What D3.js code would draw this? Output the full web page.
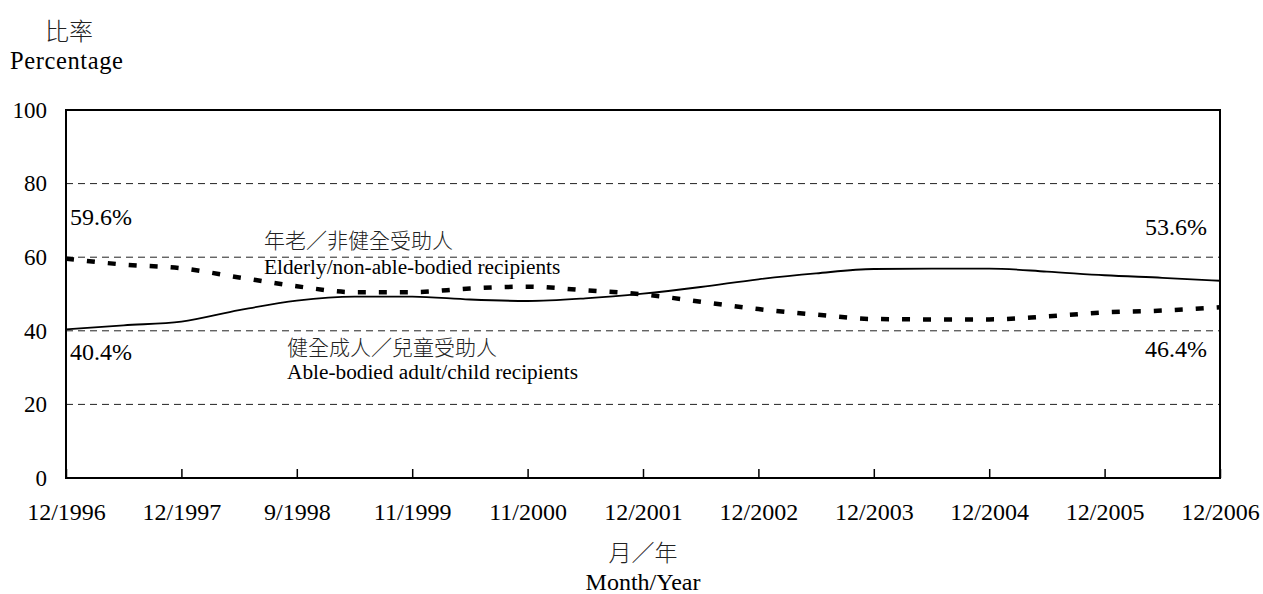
<!DOCTYPE html>
<html>
<head>
<meta charset="utf-8">
<script src="https://cdn.jsdelivr.net/npm/d3@7.9.0/dist/d3.min.js"></script>
<style>
  body { margin: 0; background: #fff; }
  text { font-family: "Liberation Serif", "Times New Roman", serif; fill: #000; }
  .cjk { font-family: "Noto Sans CJK TC", "Noto Sans CJK SC", sans-serif; font-weight: 300; fill: #222; }
</style>
</head>
<body>
<svg id="chart" width="1263" height="594"></svg>
<script>
// labelled months on the x axis (data points also sit halfway between them)
const tickLabels = ['12/1996', '12/1997', '9/1998', '11/1999', '11/2000', '12/2001',
  '12/2002', '12/2003', '12/2004', '12/2005', '12/2006'];

// % of CSSA cases at every half step
const elderly = [59.6, 58.0, 57.0, 54.5, 52.1, 50.5, 50.5, 51.5, 52.0, 51.0, 49.9,
  47.9, 45.9, 44.4, 43.2, 43.1, 43.1, 43.9, 45.0, 45.5, 46.4];
const ableBodied = [40.4, 41.5, 42.5, 45.6, 48.2, 49.3, 49.3, 48.5, 48.1, 48.8, 50.1,
  51.9, 54.0, 55.6, 56.8, 56.9, 56.9, 56.1, 55.1, 54.4, 53.6];

const yTicks = [0, 20, 40, 60, 80, 100];

const svg = d3.select('#chart');
const plotLeft = 66, plotRight = 1220, plotTop = 110, plotBottom = 478;

const x = d3.scaleLinear().domain([0, elderly.length - 1]).range([plotLeft, plotRight]);
const y = d3.scaleLinear().domain([0, 100]).range([plotBottom, plotTop]);

// dashed grid
svg.append('g')
  .selectAll('line')
  .data(yTicks.filter((t) => t > 0 && t < 100))
  .join('line')
  .attr('x1', plotLeft).attr('x2', plotRight)
  .attr('y1', (d) => y(d)).attr('y2', (d) => y(d))
  .attr('stroke', '#222')
  .attr('stroke-width', 1)
  .attr('stroke-dasharray', '7,5');

// y axis labels
const yAxis = svg.append('g')
  .attr('transform', `translate(${plotLeft},0)`)
  .call(d3.axisLeft(y).tickValues(yTicks).tickSize(0).tickPadding(19));
yAxis.select('.domain').remove();
yAxis.selectAll('text').attr('font-size', 23).attr('font-family', null);

// x axis, ticks pointing into the plot
const xAxis = svg.append('g')
  .attr('transform', `translate(0,${plotBottom})`)
  .call(d3.axisBottom(x)
    .tickValues(tickLabels.map((d, i) => i * 2))
    .tickFormat((d) => tickLabels[d / 2])
    .tickSizeInner(-9)
    .tickSizeOuter(0)
    .tickPadding(25));
xAxis.select('.domain').remove();
xAxis.selectAll('line').attr('stroke', '#000').attr('stroke-width', 1.5);
xAxis.selectAll('text').attr('font-size', 24).attr('font-family', null);

// frame
svg.append('rect')
  .attr('x', plotLeft).attr('y', plotTop)
  .attr('width', plotRight - plotLeft).attr('height', plotBottom - plotTop)
  .attr('fill', 'none')
  .attr('stroke', '#000')
  .attr('stroke-width', 2);

const line = d3.line()
  .x((d, i) => x(i))
  .y((d) => y(d))
  .curve(d3.curveMonotoneX);

svg.append('path')
  .datum(ableBodied)
  .attr('d', line)
  .attr('fill', 'none')
  .attr('stroke', '#000')
  .attr('stroke-width', 1.8);

svg.append('path')
  .datum(elderly)
  .attr('d', line)
  .attr('fill', 'none')
  .attr('stroke', '#000')
  .attr('stroke-width', 4.5)
  .attr('stroke-dasharray', '8,13');

// end value labels
const last = elderly.length - 1;
const valueLabels = [
  { text: `${elderly[0]}%`, x: x(0) + 4, y: 225, anchor: 'start' },
  { text: `${ableBodied[0]}%`, x: x(0) + 4, y: 360, anchor: 'start' },
  { text: `${ableBodied[last]}%`, x: x(last) - 13, y: 235, anchor: 'end' },
  { text: `${elderly[last]}%`, x: x(last) - 13, y: 357, anchor: 'end' },
];
svg.append('g')
  .selectAll('text')
  .data(valueLabels)
  .join('text')
  .attr('x', (d) => d.x).attr('y', (d) => d.y)
  .attr('text-anchor', (d) => d.anchor)
  .attr('font-size', 24)
  .text((d) => d.text);

// series names
svg.append('text').attr('class', 'cjk').attr('x', 264).attr('y', 248)
  .attr('font-size', 21).text('年老／非健全受助人');
svg.append('text').attr('x', 264).attr('y', 274)
  .attr('font-size', 21.3).text('Elderly/non-able-bodied recipients');
svg.append('text').attr('class', 'cjk').attr('x', 287).attr('y', 355)
  .attr('font-size', 21).text('健全成人／兒童受助人');
svg.append('text').attr('x', 287).attr('y', 379)
  .attr('font-size', 21.3).text('Able-bodied adult/child recipients');

// axis titles
svg.append('text').attr('class', 'cjk').attr('x', 69).attr('y', 40)
  .attr('text-anchor', 'middle').attr('font-size', 24).text('比率');
svg.append('text').attr('x', 10).attr('y', 69)
  .attr('font-size', 24.5).attr('letter-spacing', 0.6).text('Percentage');
svg.append('text').attr('class', 'cjk').attr('x', 643).attr('y', 561)
  .attr('text-anchor', 'middle').attr('font-size', 23).text('月／年');
svg.append('text').attr('x', 643).attr('y', 590)
  .attr('text-anchor', 'middle').attr('font-size', 24).text('Month/Year');
</script>
</body>
</html>
